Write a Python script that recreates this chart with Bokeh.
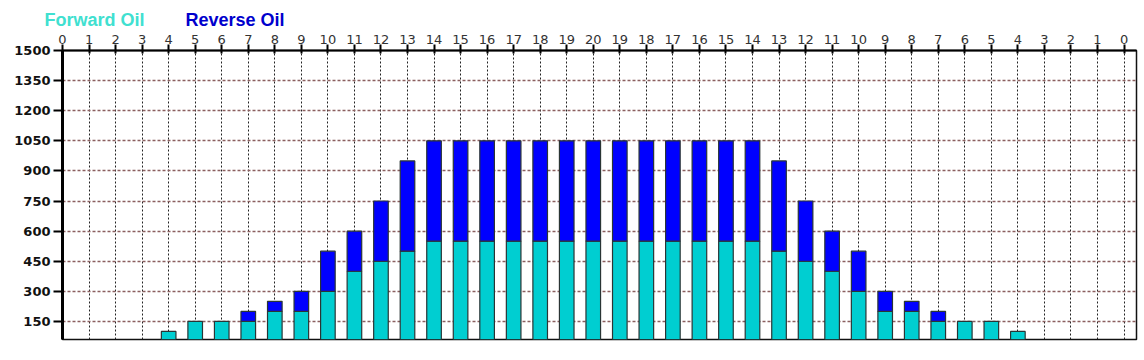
from bokeh.plotting import figure
from bokeh.layouts import column
from bokeh.models import ColumnDataSource, Range1d, FixedTicker
from bokeh.core.properties import value
from bokeh.embed import file_html
from bokeh.resources import INLINE

# ---- data ----
tick_labels = [str(v) for v in list(range(0, 21)) + list(range(19, -1, -1))]
series_names = ["Forward Oil", "Reverse Oil"]
forward_oil = [0, 0, 0, 0, 100, 150, 150, 150, 200, 200, 300, 400, 450, 500,
               550, 550, 550, 550, 550, 550, 550, 550, 550, 550, 550, 550, 550,
               500, 450, 400, 300, 200, 200, 150, 150, 150, 100, 0, 0, 0, 0]
reverse_oil = [0, 0, 0, 0, 0, 0, 0, 50, 50, 100, 200, 200, 300, 450,
               500, 500, 500, 500, 500, 500, 500, 500, 500, 500, 500, 500, 500,
               450, 300, 200, 200, 100, 50, 50, 0, 0, 0, 0, 0, 0, 0]
y_ticks = [150, 300, 450, 600, 750, 900, 1050, 1200, 1350, 1500]

x_pos = list(range(len(tick_labels)))
fwd_src = ColumnDataSource(dict(
    x=[x for x, f in zip(x_pos, forward_oil) if f > 0],
    top=[f for f in forward_oil if f > 0]))
rev_src = ColumnDataSource(dict(
    x=[x for x, r in zip(x_pos, reverse_oil) if r > 0],
    bottom=[f for f, r in zip(forward_oil, reverse_oil) if r > 0],
    top=[f + r for f, r in zip(forward_oil, reverse_oil) if r > 0]))

# ---- legend strip (coloured text) ----
leg = figure(frame_width=1144, frame_height=30, output_backend="svg", toolbar_location=None,
             x_range=Range1d(0, 1144), y_range=Range1d(0, 30),
             x_axis_type=None, y_axis_type=None, min_border=0)
try:
    leg.frame_align = False
except Exception:
    pass
leg.outline_line_color = None
leg.grid.visible = False
leg_src = ColumnDataSource(dict(x=[44, 185], y=[10.8, 10.8], text=series_names,
                                color=["#40E0D0", "#0000CD"]))
leg.text(x="x", y="y", text="text", text_color="color", source=leg_src,
         text_font=value("Liberation Sans"), text_font_style="bold",
         text_font_size="18px", text_baseline="middle", text_align="left")

# ---- main chart ----
p = figure(width=1144, height=330, output_backend="svg", toolbar_location=None,
           x_range=Range1d(0, 40.47), y_range=Range1d(60, 1500),
           x_axis_location="above", y_axis_location="left",
           min_border_left=62, min_border_right=8, min_border_top=20, min_border_bottom=21)
p.background_fill_color = "white"
p.border_fill_color = "white"
p.outline_line_color = "#111111"
p.outline_line_width = 1.5

p.xgrid.ticker = FixedTicker(ticks=x_pos)
p.xgrid.grid_line_color = "#222222"
p.xgrid.grid_line_dash = "2 2"
p.xgrid.grid_line_width = 1
p.ygrid.ticker = FixedTicker(ticks=y_ticks)
p.ygrid.grid_line_color = "#8b5f5f"
p.ygrid.grid_line_dash = "3 2"
p.ygrid.grid_line_width = 1.3

p.vbar(x="x", width=0.55, bottom=0, top="top", source=fwd_src,
       fill_color="#00CED1", line_color="#2a3535", line_width=1.2)
p.vbar(x="x", width=0.55, bottom="bottom", top="top", source=rev_src,
       fill_color="#0000FF", line_color="#2a3535", line_width=1.2)

xa = p.xaxis[0]
xa.ticker = FixedTicker(ticks=x_pos)
xa.major_label_overrides = {i: lab for i, lab in enumerate(tick_labels)}
xa.axis_line_width = 2
xa.axis_line_color = "black"
xa.major_tick_line_width = 2
xa.major_tick_out = 6
xa.major_tick_in = 3
xa.minor_tick_line_color = None
xa.major_label_text_font = "DejaVu Sans"
xa.major_label_text_font_size = "13px"
xa.major_label_text_color = "#333333"
xa.major_label_standoff = 1

ya = p.yaxis[0]
ya.ticker = FixedTicker(ticks=y_ticks)
ya.axis_line_width = 3
ya.axis_line_color = "black"
ya.major_tick_line_width = 2
ya.major_tick_out = 9
ya.major_tick_in = 0
ya.minor_tick_line_color = None
ya.major_label_text_font = "DejaVu Sans"
ya.major_label_text_font_style = "bold"
ya.major_label_text_font_size = "13px"
ya.major_label_text_color = "#111111"
ya.major_label_standoff = 3

layout = column(leg, p, spacing=0)
open("out.html", "w").write(file_html(layout, INLINE))
